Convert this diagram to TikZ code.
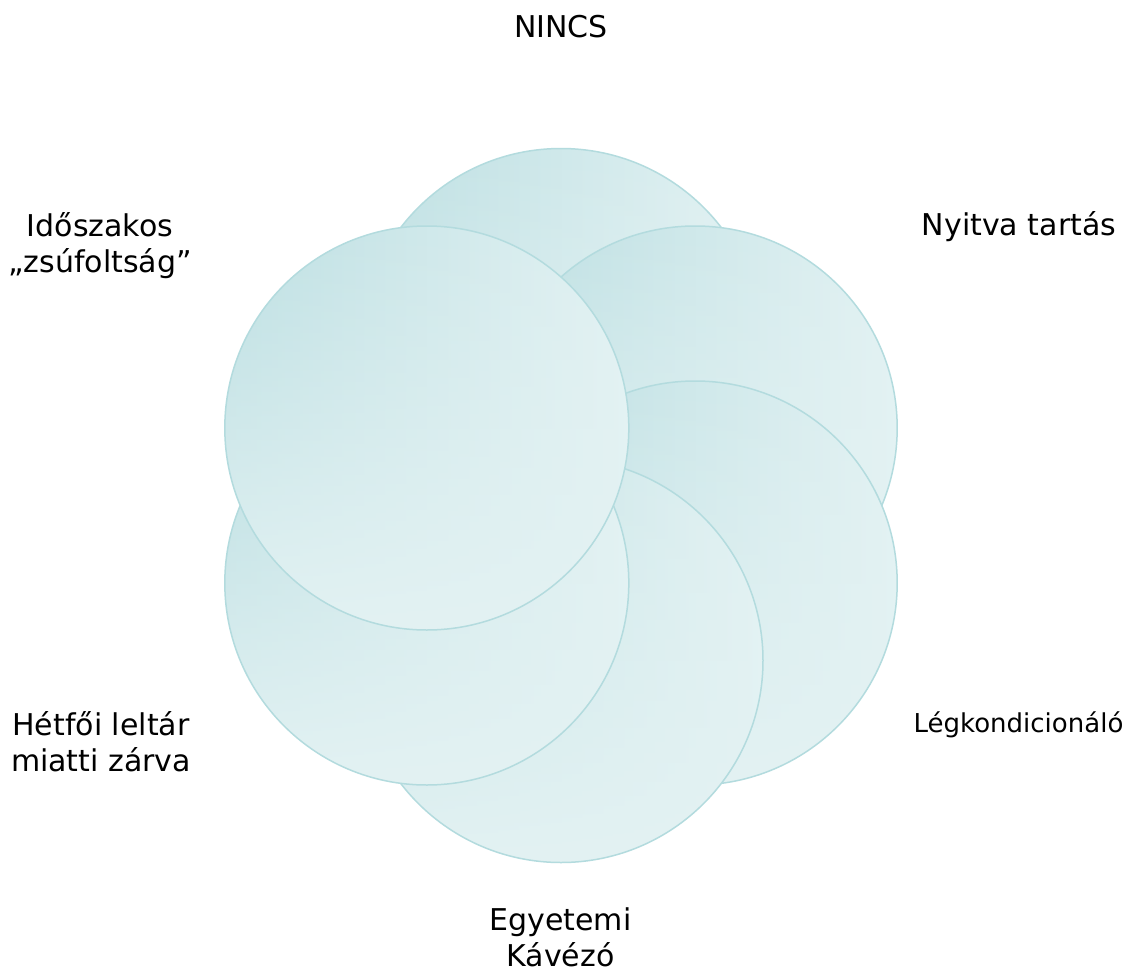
\documentclass[tikz,border=0pt]{standalone}
\usepackage{fontspec}
\setmainfont{DejaVu Sans}
\usetikzlibrary{fadings}
\definecolor{dk}{HTML}{BCDFE2}
\definecolor{lt}{HTML}{E3F2F3}
\definecolor{edgec}{HTML}{B3DBDE}
\tikzfading[name=vfade, top color=transparent!100, middle color=transparent!100, bottom color=transparent!0]
\begin{document}
\begin{tikzpicture}[x=1pt,y=-1pt,
  bub/.style={circle, minimum size=404pt, inner sep=0pt, draw=edgec, line width=1.5pt,
    preaction={shade, left color=dk, middle color=dk!70!lt, right color=lt},
    preaction={fill=lt, path fading=vfade}},
  lbl/.style={font=\fontsize{30}{36}\selectfont, align=center, anchor=base, inner sep=0pt},
  lbls/.style={font=\fontsize{26}{32}\selectfont, align=center, anchor=base, inner sep=0pt}]
\useasboundingbox[fill=white] (0,0) rectangle (1138,972);
\node[bub] (c1) at (561,350.5) {};
\node[bub] (c2) at (695.2,428) {};
\node[bub] (c3) at (695.2,583) {};
\node[bub] (c4) at (561,660.5) {};
\node[bub] (c5) at (426.8,583) {};
\node[bub] (c6) at (426.8,428) {};
\node[lbl] (t1) at (561,37) {NINCS};
\node[lbl] (t2) at (1019,235) {Nyitva tartás};
\node[lbls] (t3) at (1018.5,732) {Légkondicionáló};
\node[lbl] (t4) at (560.5,966) {Egyetemi\\Kávézó};
\node[lbl] (t5) at (101,771) {Hétfői leltár\\miatti zárva};
\node[lbl] (t6) at (100,272) {Időszakos\\„zsúfoltság”};
\end{tikzpicture}
\end{document}
